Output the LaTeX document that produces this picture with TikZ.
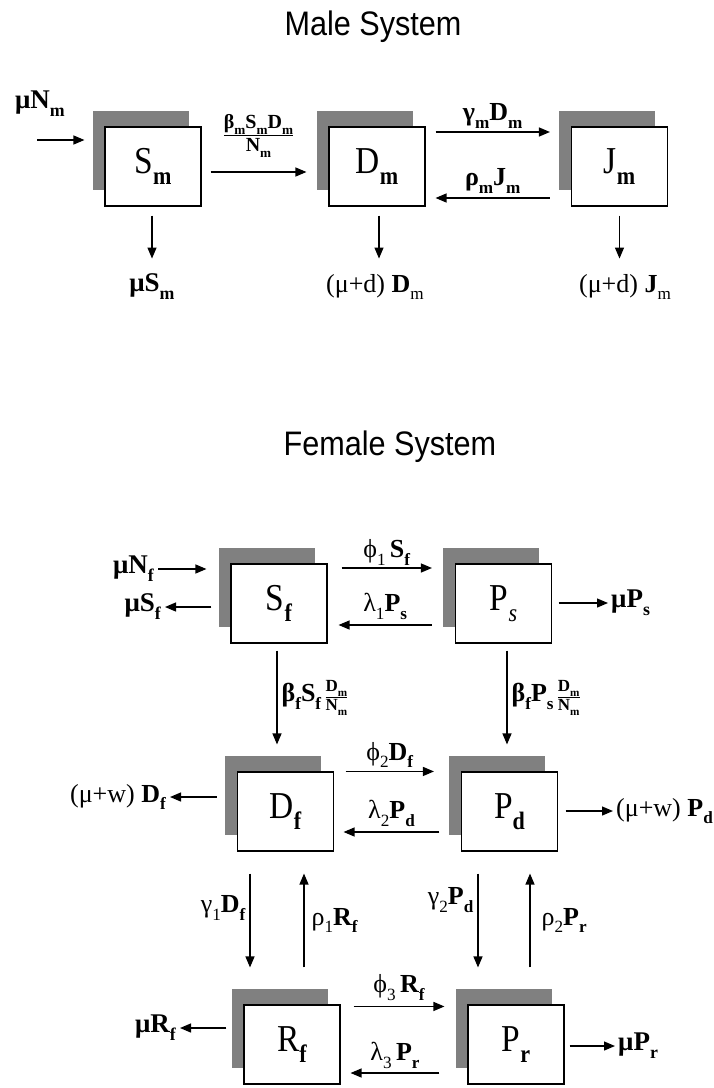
\documentclass[tikz,border=0pt]{standalone}
\usepackage{graphicx}
\usepackage{fontspec}
\setmainfont{Liberation Serif}
\newfontfamily\boxfont{Liberation Serif}[FakeStretch=0.88]
\newfontfamily\titlefont{Liberation Sans}[FakeStretch=0.9]
\usetikzlibrary{arrows.meta,shadows}
\setlength\arrayrulewidth{1.2pt}
\newcommand\lo[1]{\raisebox{-0.3em}{\scalebox{0.66}{#1}}}
\newcommand\ratio[2]{\begin{tabular}{@{}c@{}}#1\\\hline #2\end{tabular}}

\begin{document}
\begin{tikzpicture}[x=1pt,y=-1pt,
    box/.style={rectangle, draw=black, line width=1.1pt, fill=white, minimum width=96pt, minimum height=79pt, inner sep=0pt, font=\boxfont\fontsize{38}{40}\selectfont, drop shadow={shadow xshift=-12.5pt, shadow yshift=16pt, fill=black!50, opacity=1}},
    a/.style={-{Triangle[length=11pt,width=9pt]}, line width=1.2pt},
    lab/.style={font=\fontsize{26}{28}\selectfont, inner sep=1pt},
    blab/.style={font=\bfseries\fontsize{26}{28}\selectfont, inner sep=1pt},
    mu/.style={font=\bfseries\fontsize{27}{29}\selectfont, inner sep=1pt},
    frac/.style={font=\bfseries\fontsize{20}{22}\selectfont, inner sep=1pt},
    ttl/.style={font=\titlefont\fontsize{34}{36}\selectfont}
]
    \useasboundingbox (0,0) rectangle (714,1088);

    % male system
    \node[ttl] (tm) at (373,27) {Male System};
    \node[box] (Sm) at (153,166.5) {S\lo{\textbf{m}}};
    \node[box] (Dm) at (377,166.5) {D\lo{\textbf{m}}};
    \node[box] (Jm) at (619.5,166.5) {J\lo{\textbf{m}}};
    \node[mu] (lNm) at (40,104) {μN\lo{m}};
    \node[mu] (lSm) at (152,287) {μS\lo{m}};
    \node[lab] (lDm) at (375,287) {(μ+d) \textbf{D}\lo{m}};
    \node[lab] (lJm) at (625,287) {(μ+d) \textbf{J}\lo{m}};
    \coordinate (inm) at (37,140);
    \draw[a] (inm) -- ([xshift=-20pt]inm -| Sm.west);
    \draw[a] ([xshift=9pt,yshift=-5.5pt]Sm.east) -- node[frac,above=12pt]{\ratio{β\lo{m}S\lo{m}D\lo{m}}{N\lo{m}}} ([xshift=-22pt,yshift=-5.5pt]Dm.west);
    \draw[a] ([xshift=10pt,yshift=34.5pt]Dm.east) -- node[blab,above=2pt]{γ\lo{m}D\lo{m}} ([xshift=-21pt,yshift=34.5pt]Jm.west);
    \draw[a] ([xshift=-21pt,yshift=-31.5pt]Jm.west) -- node[blab,above=3pt]{ρ\lo{m}J\lo{m}} ([xshift=10pt,yshift=-31.5pt]Dm.east);
    \draw[a] ([xshift=-1pt,yshift=-9pt]Sm.south) -- ++(0,43);
    \draw[a] ([xshift=2pt,yshift=-9pt]Dm.south) -- ++(0,43);
    \draw[a] ([yshift=-9pt]Jm.south) -- ++(0,43);

    % female system
    \node[ttl] (tf) at (390,447) {Female System};
    \node[box] (Sf) at (279,603.5) {S\lo{\textbf{f}}};
    \node[box] (Ps) at (503.5,603.5) {P\lo{\textit{s}}};
    \node[box] (Df) at (285.5,811.5) {D\lo{\textbf{f}}};
    \node[box] (Pd) at (509.5,811.5) {P\lo{\textbf{d}}};
    \node[box] (Rf) at (292,1044.5) {R\lo{\textbf{f}}};
    \node[box] (Pr) at (516,1044.5) {P\lo{\textbf{r}}};
    \node[mu,anchor=east] (lNf) at (155,569) {μN\lo{f}};
    \node[mu,anchor=east] (lSf) at (162,607) {μS\lo{f}};
    \node[mu,anchor=west] (lPs) at (610,603) {μP\lo{s}};
    \node[lab,anchor=east] (lDf) at (167,797) {(μ+w) \textbf{D\lo{f}}};
    \node[lab,anchor=west] (lPd) at (615,811) {(μ+w) \textbf{P\lo{d}}};
    \node[mu,anchor=east] (lRf) at (177,1028) {μR\lo{f}};
    \node[mu,anchor=west] (lPr) at (617,1046) {μP\lo{r}};
    \draw[a] ([xshift=3pt]lNf.east) -- ([xshift=-24pt]lNf.east -| Sf.west);
    \draw[a] ([xshift=-19pt]lSf.east -| Sf.west) -- ([xshift=3pt]lSf.east);
    \draw[a] ([xshift=6.5pt]lPs.west -| Ps.east) -- ([xshift=-2pt]lPs.west);
    \draw[a] ([xshift=-20pt]lDf.east -| Df.west) -- ([xshift=3pt]lDf.east);
    \draw[a] ([xshift=7.5pt]lPd.west -| Pd.east) -- ([xshift=-2pt]lPd.west);
    \draw[a] ([xshift=-17pt]lRf.east -| Rf.west) -- ([xshift=3pt]lRf.east);
    \draw[a] ([xshift=5pt]lPr.west -| Pr.east) -- ([xshift=-2pt]lPr.west);

    \draw[a] ([xshift=14pt,yshift=35.5pt]Sf.east) -- node[lab,above=1pt]{ϕ\lo{1}\,\textbf{S\lo{f}}} ([xshift=-23pt,yshift=35.5pt]Ps.west);
    \draw[a] ([xshift=-23pt,yshift=-21.5pt]Ps.west) -- node[lab,above=4pt]{λ\lo{1}\textbf{P\lo{s}}} ([xshift=11pt,yshift=-21.5pt]Sf.east);
    \draw[a] ([xshift=-2pt,yshift=-7pt]Sf.south) -- node[lab,right=3pt]{\textbf{β\lo{f}S\lo{f}}\,{\bfseries\fontsize{17}{18}\selectfont\ratio{D\lo{m}}{N\lo{m}}}} ([xshift=-2pt,yshift=27pt]Sf.south |- Df.north);
    \draw[a] ([xshift=3.5pt,yshift=-7pt]Ps.south) -- node[lab,right=3pt]{\textbf{β\lo{f}P\lo{s}}\,{\bfseries\fontsize{17}{18}\selectfont\ratio{D\lo{m}}{N\lo{m}}}} ([xshift=3.5pt,yshift=27pt]Ps.south |- Pd.north);
    \draw[a] ([xshift=11.5pt]Df.north east) -- node[lab,above=2pt]{ϕ\lo{2}\textbf{D\lo{f}}} ([xshift=-27pt]Pd.north west);
    \draw[a] ([xshift=-21.5pt,yshift=-20.5pt]Pd.west) -- node[lab,above=4pt]{λ\lo{2}\textbf{P\lo{d}}} ([xshift=9.5pt,yshift=-20.5pt]Df.east);
    \draw[a] ([xshift=-35.5pt,yshift=-22pt]Df.south) -- node[lab,left=3pt,pos=0.37]{γ\lo{1}\textbf{D\lo{f}}} ([xshift=-35.5pt,yshift=37pt]Df.south |- Rf.north);
    \draw[a] ([xshift=12pt,yshift=37pt]Rf.north) -- node[lab,right=6pt]{ρ\lo{1}\textbf{R\lo{f}}} ([xshift=12pt,yshift=-22pt]Rf.north |- Df.south);
    \draw[a] ([xshift=-31.5pt,yshift=-22pt]Pd.south) -- node[lab,left=3pt,pos=0.28]{γ\lo{2}\textbf{P\lo{d}}} ([xshift=-31.5pt,yshift=37pt]Pd.south |- Pr.north);
    \draw[a] ([xshift=14pt,yshift=37pt]Pr.north) -- node[lab,right=10pt]{ρ\lo{2}\textbf{P\lo{r}}} ([xshift=14pt,yshift=-22pt]Pr.north |- Pd.south);
    \draw[a] ([xshift=13pt,yshift=-2pt]Rf.north east) -- node[lab,above=4pt]{ϕ\lo{3}\,\textbf{R\lo{f}}} ([xshift=-23pt,yshift=-2pt]Pr.north west);
    \draw[a] ([xshift=-28pt,yshift=-28.5pt]Pr.west) -- node[lab,above=3pt]{λ\lo{3}\,\textbf{P\lo{r}}} ([xshift=10pt,yshift=-28.5pt]Rf.east);
\end{tikzpicture}
\end{document}
